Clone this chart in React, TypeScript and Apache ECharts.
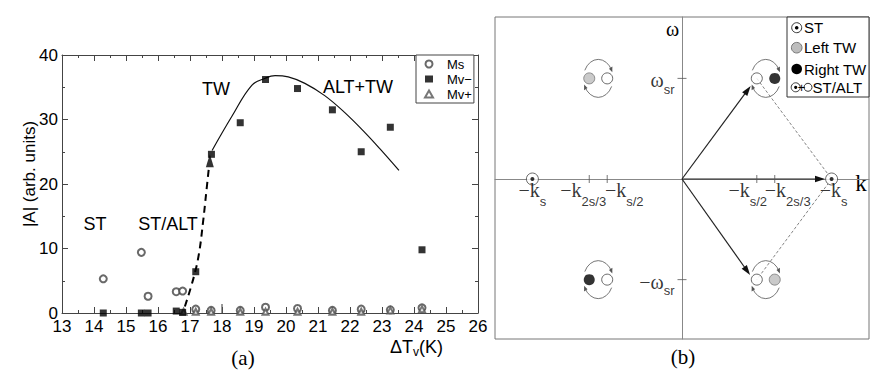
import React, { useEffect, useRef } from "react";
import * as echarts from "echarts";

// ---------------- Panel (a) data ----------------
const msPoints = [
  [14.29, 5.3], [15.48, 9.4], [15.69, 2.6], [16.57, 3.3], [16.77, 3.4],
  [17.18, 0.6], [17.66, 0.4], [18.57, 0.4], [19.36, 0.9], [20.36, 0.7],
  [21.45, 0.4], [22.35, 0.6], [23.26, 0.5], [24.25, 0.8],
];
const mvMinusPoints = [
  [14.29, 0], [15.48, 0], [15.69, 0], [16.57, 0.3], [16.77, 0.1],
  [17.18, 6.4], [17.67, 24.6], [18.57, 29.5], [19.36, 36.2], [20.36, 34.8],
  [21.45, 31.5], [22.35, 25.0], [23.26, 28.8], [24.25, 9.8],
];
const mvPlusPoints = [
  [16.8, 0.2], [17.18, 0.2], [17.66, 0.2], [18.57, 0.2], [19.36, 0.2],
  [20.36, 0.2], [21.45, 0.2], [22.35, 0.2], [23.26, 0.4], [24.25, 0.6],
];
const fitCurve = [
  [17.69, 25.2], [18.31, 30.5], [18.93, 35.3], [19.35, 36.4], [19.66, 36.8],
  [20.07, 36.6], [20.59, 35.6], [21.21, 33.7], [21.83, 31.1], [22.46, 28.0],
  [22.98, 25.2], [23.53, 22.1],
];
const onsetCurve = [
  [16.84, 1.0], [17.12, 5.6], [17.28, 9.2], [17.41, 14.2], [17.51, 18.8], [17.59, 22.5],
];
const onsetArrowTip = [[17.62, 23.6]];
const markAt18 = [[18, 0], [18, 1.4]];
const legendANames = ["Ms", "Mv−", "Mv+"];
const annotationsA = ["ST", "ST/ALT", "TW", "ALT+TW"];

// ---------------- Panel (b) data ----------------
const stPoints = [[-1, 0], [1, 0]];
const leftTWPoints = [[-0.62, 1], [0.62, -1]];
const rightTWPoints = [[-0.62, -1], [0.62, 1]];
const altPoints = [[-0.5, 1], [-0.5, -1], [0.5, 1], [0.5, -1]];
const cycleCenters = [[-0.56, 1], [-0.56, -1], [0.56, 1], [0.56, -1]];
const wavevectorArrows = [[0, 0, 0.459, 0.924], [0, 0, 0.455, -0.954], [0, 0, 0.956, 0]];
const resonancePath = [[0.5, 1], [1, 0], [0.5, -1]];
const kTickValues = [-0.62, -0.5, 0.5, 0.62];
const kLabelValues = [-1, -0.62, -0.5, 0.5, 0.62, 1];
const kLabelSubs = ["s", "2s/3", "s/2", "s/2", "2s/3", "s"];
const wTickValues = [1, -1];
const wLabelMains = ["ω", "−ω"];
const legendBNames = ["ST", "Left TW", "Right TW", "ST/ALT"];

const SANS = "'Liberation Sans', Arial, Helvetica, sans-serif";
const SERIF = "'Liberation Serif', 'DejaVu Serif', 'Times New Roman', serif";
const AX = "#444";

function arrowHead(px: number, py: number, tx: number, ty: number, L: number, W: number) {
  const bx = px - tx * L;
  const by = py - ty * L;
  return [[px, py], [bx - ty * W, by + tx * W], [bx + ty * W, by - tx * W]];
}

function buildOption(): any {
  const kLabelOffsets = [0, -6, 17, -9, 13, 2];

  const aXAxis = (pos: string, labels: boolean) => ({
    gridIndex: 0, type: "value", min: 13, max: 26, interval: 1, position: pos,
    axisLine: { show: true, onZero: false, lineStyle: { color: AX, width: 1 } },
    axisTick: { show: true, inside: true, length: 6, lineStyle: { color: AX } },
    minorTick: { show: true, splitNumber: 2, length: 3, lineStyle: { color: AX } },
    axisLabel: { show: labels, color: "#000", fontSize: 17, fontFamily: SANS, margin: 5 },
    splitLine: { show: false },
  });
  const aYAxis = (pos: string, labels: boolean) => ({
    gridIndex: 0, type: "value", min: 0, max: 40, interval: 10, position: pos,
    axisLine: { show: true, onZero: false, lineStyle: { color: AX, width: 1 } },
    axisTick: { show: true, inside: true, length: 6, lineStyle: { color: AX } },
    minorTick: { show: true, splitNumber: 2, length: 3, lineStyle: { color: AX } },
    axisLabel: { show: labels, color: "#000", fontSize: 17, fontFamily: SANS, margin: 4 },
    splitLine: { show: false },
  });

  const bRich = {
    m: { fontFamily: SERIF, fontSize: 20, color: "#000" },
    s: { fontFamily: SANS, fontSize: 13, color: "#000", padding: [22, 0, 0, 0] },
  };

  const series: any[] = [
    // ---- panel (a)
    {
      name: "Ms", type: "scatter", xAxisIndex: 0, yAxisIndex: 0, data: msPoints,
      symbol: "emptyCircle", symbolSize: 7, itemStyle: { color: "#444", borderWidth: 0.9 }, z: 3,
    },
    {
      name: "Mv−", type: "scatter", xAxisIndex: 0, yAxisIndex: 0, data: mvMinusPoints,
      symbol: "rect", symbolSize: 7, itemStyle: { color: "#000" }, z: 4,
    },
    {
      name: "Mv+", type: "scatter", xAxisIndex: 0, yAxisIndex: 0, data: mvPlusPoints,
      symbol: "emptyTriangle", symbolSize: 6, itemStyle: { color: "#555", borderWidth: 0.8 }, z: 3,
    },
    {
      name: "fit", type: "line", xAxisIndex: 0, yAxisIndex: 0, data: fitCurve, smooth: 0.4,
      symbol: "none", lineStyle: { color: "#111", width: 1.2 }, z: 2,
    },
    {
      name: "onset", type: "line", xAxisIndex: 0, yAxisIndex: 0, data: onsetCurve, smooth: 0.4,
      symbol: "none", lineStyle: { color: "#000", width: 2, type: [7, 5] }, z: 2,
    },
    {
      name: "onsetTip", type: "scatter", xAxisIndex: 0, yAxisIndex: 0, data: onsetArrowTip,
      symbol: "triangle", symbolSize: [8, 13], itemStyle: { color: "#000" }, z: 5,
    },
    {
      name: "mark18", type: "line", xAxisIndex: 0, yAxisIndex: 0, data: markAt18,
      symbol: "none", lineStyle: { color: "#555", width: 1.2 }, z: 2,
    },
    // ---- panel (b)
    {
      name: "resonance", type: "line", xAxisIndex: 2, yAxisIndex: 2, data: resonancePath,
      symbol: "none", lineStyle: { color: "#666", width: 0.8, type: [3, 2] }, z: 2,
    },
    {
      name: "arrows", type: "custom", xAxisIndex: 2, yAxisIndex: 2, data: wavevectorArrows,
      dimensions: ["x0", "y0", "x1", "y1"], encode: { x: [0, 2], y: [1, 3] }, z: 3,
      renderItem: (_p: any, api: any) => {
        const p1 = api.coord([api.value(0), api.value(1)]);
        const p2 = api.coord([api.value(2), api.value(3)]);
        const dx = p2[0] - p1[0];
        const dy = p2[1] - p1[1];
        const len = Math.hypot(dx, dy);
        const ux = dx / len;
        const uy = dy / len;
        const L = 10;
        return {
          type: "group",
          children: [
            {
              type: "line",
              shape: { x1: p1[0], y1: p1[1], x2: p2[0] - ux * L * 0.8, y2: p2[1] - uy * L * 0.8 },
              style: { stroke: "#222", lineWidth: 1.2 },
            },
            { type: "polygon", shape: { points: arrowHead(p2[0], p2[1], ux, uy, L, 3.2) }, style: { fill: "#111" } },
          ],
        };
      },
    },
    {
      name: "cycles", type: "custom", xAxisIndex: 2, yAxisIndex: 2, data: cycleCenters, z: 3,
      renderItem: (_p: any, api: any) => {
        const c = api.coord([api.value(0), api.value(1)]);
        const r = 19;
        const deg = Math.PI / 180;
        const tTop = 335 * deg;
        const tBot = 155 * deg;
        const tip = (t: number) => {
          const px = r * Math.cos(t) - Math.sin(t) * 2;
          const py = r * Math.sin(t) + Math.cos(t) * 2;
          return arrowHead(px, py, -Math.sin(t), Math.cos(t), 5, 2.4);
        };
        return {
          type: "group", x: c[0], y: c[1], scaleX: 0.78,
          children: [
            { type: "arc", shape: { cx: 0, cy: 0, r, startAngle: 205 * deg, endAngle: tTop, clockwise: true }, style: { stroke: "#666", fill: "none", lineWidth: 1 } },
            { type: "arc", shape: { cx: 0, cy: 0, r, startAngle: 25 * deg, endAngle: tBot, clockwise: true }, style: { stroke: "#666", fill: "none", lineWidth: 1 } },
            { type: "polygon", shape: { points: tip(tTop) }, style: { fill: "#555" } },
            { type: "polygon", shape: { points: tip(tBot) }, style: { fill: "#555" } },
          ],
        };
      },
    },
    {
      name: "ST/ALT", type: "scatter", xAxisIndex: 2, yAxisIndex: 2, data: altPoints,
      symbol: "circle", symbolSize: 11, itemStyle: { color: "#fff", borderColor: "#444", borderWidth: 1 }, z: 5,
    },
    {
      name: "Left TW", type: "scatter", xAxisIndex: 2, yAxisIndex: 2, data: leftTWPoints,
      symbol: "circle", symbolSize: 11, itemStyle: { color: "#bdbdbd", borderColor: "#777", borderWidth: 1 }, z: 5,
    },
    {
      name: "Right TW", type: "scatter", xAxisIndex: 2, yAxisIndex: 2, data: rightTWPoints,
      symbol: "circle", symbolSize: 11, itemStyle: { color: "#000" }, z: 5,
    },
    {
      name: "ST", type: "scatter", xAxisIndex: 2, yAxisIndex: 2, data: stPoints,
      symbol: "circle", symbolSize: 12, itemStyle: { color: "#fff", borderColor: "#444", borderWidth: 1 }, z: 5,
    },
    {
      name: "STdot", type: "scatter", xAxisIndex: 2, yAxisIndex: 2, data: stPoints,
      symbol: "circle", symbolSize: 4, itemStyle: { color: "#000" }, z: 6,
    },
    {
      name: "kTicks", type: "scatter", xAxisIndex: 2, yAxisIndex: 2,
      data: kTickValues.map((v) => [v, 0]),
      symbol: "rect", symbolSize: [1, 8], itemStyle: { color: "#555" }, z: 4,
    },
    {
      name: "wTicks", type: "scatter", xAxisIndex: 2, yAxisIndex: 2,
      data: wTickValues.map((v) => [0, v]),
      symbol: "rect", symbolSize: [9, 1], itemStyle: { color: "#555" }, z: 4,
    },
    {
      name: "kLabels", type: "scatter", xAxisIndex: 2, yAxisIndex: 2,
      data: kLabelValues.map((v, i) => ({
        value: [v, 0],
        label: { offset: [kLabelOffsets[i], -7], formatter: "{m|−k}{s|" + kLabelSubs[i] + "}" },
      })),
      symbolSize: 1, itemStyle: { color: "rgba(0,0,0,0)" }, z: 7,
      label: { show: true, position: "bottom", distance: 0, rich: bRich },
    },
    {
      name: "wLabels", type: "scatter", xAxisIndex: 2, yAxisIndex: 2,
      data: wTickValues.map((v, i) => ({
        value: [0, v],
        label: { formatter: "{m|" + wLabelMains[i] + "}{s|sr}" },
      })),
      symbolSize: 1, itemStyle: { color: "rgba(0,0,0,0)" }, z: 7,
      label: {
        show: true, position: "left", distance: 7, offset: [0, 2],
        rich: {
          m: { fontFamily: SERIF, fontSize: 20, color: "#000" },
          s: { fontFamily: SANS, fontSize: 13, color: "#000", padding: [18, 0, 0, 0] },
        },
      },
    },
  ];
  series.forEach((s) => { s.silent = true; s.animation = false; });

  const legendB: any[] = [];
  const lx = 796.7;
  const rows = [27.7, 47.7, 69, 87.3];
  legendB.push({ type: "rect", shape: { x: 787, y: 17, width: 82, height: 80 }, style: { fill: "#fff", stroke: "#333", lineWidth: 1 }, z: 20 });
  legendB.push({ type: "circle", shape: { cx: lx, cy: rows[0], r: 5 }, style: { fill: "#fff", stroke: "#333", lineWidth: 1 }, z: 21 });
  legendB.push({ type: "circle", shape: { cx: lx, cy: rows[0], r: 1.8 }, style: { fill: "#000" }, z: 22 });
  legendB.push({ type: "circle", shape: { cx: lx, cy: rows[1], r: 5.3 }, style: { fill: "#bdbdbd", stroke: "#777", lineWidth: 1 }, z: 21 });
  legendB.push({ type: "circle", shape: { cx: lx, cy: rows[2], r: 5.3 }, style: { fill: "#000" }, z: 21 });
  legendB.push({ type: "circle", shape: { cx: lx - 1, cy: rows[3], r: 4.5 }, style: { fill: "#fff", stroke: "#333", lineWidth: 1 }, z: 21 });
  legendB.push({ type: "circle", shape: { cx: lx - 1, cy: rows[3], r: 1.6 }, style: { fill: "#000" }, z: 22 });
  legendB.push({ type: "text", x: 801.5, y: rows[3], style: { text: "+", fontFamily: SANS, fontSize: 13, fill: "#000", align: "center", verticalAlign: "middle" }, z: 22 });
  legendB.push({ type: "circle", shape: { cx: 808, cy: rows[3], r: 4 }, style: { fill: "#fff", stroke: "#333", lineWidth: 1 }, z: 21 });
  legendBNames.forEach((n, i) => {
    legendB.push({
      type: "text", x: i === 3 ? 812.5 : 804, y: rows[i],
      style: { text: n, fontFamily: SANS, fontSize: 15, fill: "#000", align: "left", verticalAlign: "middle" }, z: 22,
    });
  });

  const annPos = [[95, 224], [168, 224], [216, 89], [358, 87]];

  const graphic: any[] = [
    {
      type: "text", x: 29, y: 174, rotation: Math.PI / 2,
      style: { text: "|A| (arb. units)", fontFamily: SANS, fontSize: 17, fill: "#000", align: "center", verticalAlign: "middle" },
    },
    {
      type: "text", x: 390, y: 347,
      style: {
        text: "{m|ΔT}{s|v}{m|(K)}", align: "left", verticalAlign: "middle",
        rich: {
          m: { fontFamily: SANS, fontSize: 18, fill: "#000" },
          s: { fontFamily: SANS, fontSize: 12, fill: "#000", padding: [10, 0, 0, 0] },
        },
      },
    },
    ...annotationsA.map((t, i) => ({
      type: "text", x: annPos[i][0], y: annPos[i][1],
      style: { text: t, fontFamily: SANS, fontSize: 18, fill: "#000", align: "center", verticalAlign: "middle" },
    })),
    { type: "text", x: 243, y: 358, style: { text: "(a)", fontFamily: SERIF, fontSize: 21, fill: "#000", align: "center", verticalAlign: "middle" } },
    { type: "text", x: 683, y: 357, style: { text: "(b)", fontFamily: SERIF, fontSize: 21, fill: "#000", align: "center", verticalAlign: "middle" } },
    { type: "text", x: 672.7, y: 29, style: { text: "ω", fontFamily: SERIF, fontSize: 20, fill: "#000", align: "center", verticalAlign: "middle" } },
    { type: "text", x: 861, y: 183, style: { text: "k", fontFamily: SERIF, fontSize: 23, fill: "#000", align: "center", verticalAlign: "middle" } },
    ...legendB,
  ];

  return {
    animation: false,
    backgroundColor: "#fff",
    grid: [
      { left: 62, top: 55, width: 416, height: 258 },
      { left: 495, top: 17, width: 374, height: 322, show: true, borderColor: "#777", borderWidth: 1, backgroundColor: "transparent" },
    ],
    xAxis: [
      aXAxis("bottom", true),
      aXAxis("top", false),
      {
        gridIndex: 1, type: "value", min: -1.25, max: 1.25,
        axisLine: { show: true, onZero: true, lineStyle: { color: "#888", width: 1 } },
        axisTick: { show: false }, axisLabel: { show: false }, splitLine: { show: false },
      },
    ],
    yAxis: [
      aYAxis("left", true),
      aYAxis("right", false),
      {
        gridIndex: 1, type: "value", min: -1.59, max: 1.61,
        axisLine: { show: true, onZero: true, lineStyle: { color: "#888", width: 1 } },
        axisTick: { show: false }, axisLabel: { show: false }, splitLine: { show: false },
      },
    ],
    legend: [
      {
        data: legendANames, orient: "vertical", left: 416, top: 55,
        padding: [2, 2, 2, 8], itemGap: 1, itemWidth: 8, itemHeight: 7,
        borderColor: "#444", borderWidth: 1, backgroundColor: "#fff", borderRadius: 0,
        selectedMode: false, z: 10,
        textStyle: { fontSize: 13, fontFamily: SANS, color: "#000", lineHeight: 14, padding: [0, 0, 0, 9] },
      },
    ],
    series,
    graphic,
  };
}

export default function App() {
  const ref = useRef<HTMLDivElement>(null);
  useEffect(() => {
    const chart = echarts.init(ref.current!, null, { renderer: "svg" });
    chart.setOption(buildOption());
    return () => chart.dispose();
  }, []);
  return (
    <div
      ref={ref}
      style={{ position: "fixed", left: 0, top: 0, width: 872, height: 373, background: "#fff" }}
    />
  );
}
